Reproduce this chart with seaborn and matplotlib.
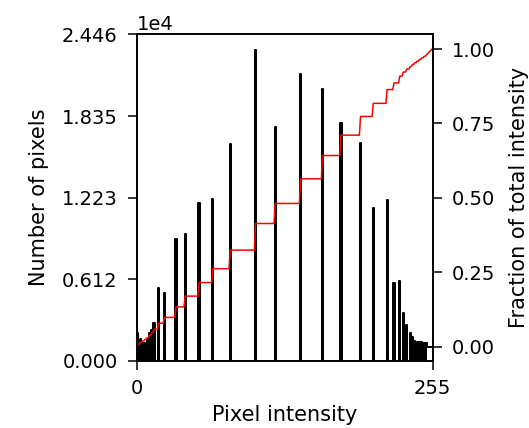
import numpy as np
import matplotlib
matplotlib.use("Agg")
import matplotlib.pyplot as plt
import seaborn as sns

# ---- data (histogram of an 8-bit image) ----
# left low-intensity cluster
left_levels = [0, 2, 4, 6, 8, 10, 12, 14]
left_counts = [2100, 1600, 1300, 1300, 1600, 2100, 2300, 2850]
# isolated peaks
peak_levels = [18, 23, 33, 41, 53, 65, 80, 102, 119, 141, 160, 176, 193, 204, 216, 222, 227]
peak_counts = [5420, 5091, 9112, 9486, 11859, 12129, 16224, 23297, 17519,
               21517, 20394, 17819, 16321, 11485, 12054, 5795, 5989]
# right high-intensity tail
tail_levels = [230, 233, 236, 238, 240, 242, 244, 246, 248, 250, 251, 252, 253, 254, 255]
tail_counts = [3550, 2700, 2100, 1800, 1500, 1420, 1420, 1420, 1300, 1300, 1000, 1050, 1000, 1050, 1000]

n_bins = 256
x_ticks = [0, 255]
x_label = "Pixel intensity"
y_label = "Number of pixels"
cdf_label = "Fraction of total intensity"
cdf_ticks = [0.0, 0.25, 0.5, 0.75, 1.0]

levels = np.array(left_levels + peak_levels + tail_levels, dtype=float)
counts = np.array(left_counts + peak_counts + tail_counts, dtype=float)

# cumulative distribution on the same 256 bins
edges = np.linspace(0, 255, n_bins + 1)
binned, _ = np.histogram(levels, bins=edges, weights=counts)
centers = 0.5 * (edges[:-1] + edges[1:])
cdf = np.cumsum(binned) / binned.sum()

plt.rcParams.update({
    "font.family": ["DejaVu Sans"],
    "font.size": 14,
    "axes.labelsize": 15,
    "xtick.labelsize": 14,
    "ytick.labelsize": 14,
    "axes.linewidth": 1.2,
    "xtick.major.size": 6.5,
    "ytick.major.size": 6.5,
    "xtick.major.width": 1.1,
    "ytick.major.width": 1.1,
    "xtick.major.pad": 7,
    "ytick.major.pad": 7.5,
})

fig = plt.figure(figsize=(5.29, 4.28), dpi=100)
ax = fig.add_axes([0.2595, 0.1572, 0.5584, 0.7622])

sns.histplot(x=levels, weights=counts, bins=n_bins, binrange=(0, 255),
             element="step", fill=False, color="black", linewidth=1.45, ax=ax)
ax.set_xlim(0, 255)
ymax = 1.05 * counts.max()
ax.set_ylim(0, ymax)
ax.set_yticks(np.linspace(0, ymax, 5))
ax.ticklabel_format(axis="y", style="scientific", scilimits=(0, 0))
ax.set_xticks(x_ticks)
ax.set_xlabel(x_label, labelpad=5)
ax.set_ylabel(y_label, labelpad=9)

ax2 = ax.twinx()
sns.lineplot(x=centers, y=cdf, color="red", linewidth=1.1, ax=ax2)
ax2.set_ylim(-0.047, 1.049)
ax2.set_yticks(cdf_ticks)
ax2.set_ylabel(cdf_label, labelpad=10)

fig.savefig("out.png", dpi=100)
